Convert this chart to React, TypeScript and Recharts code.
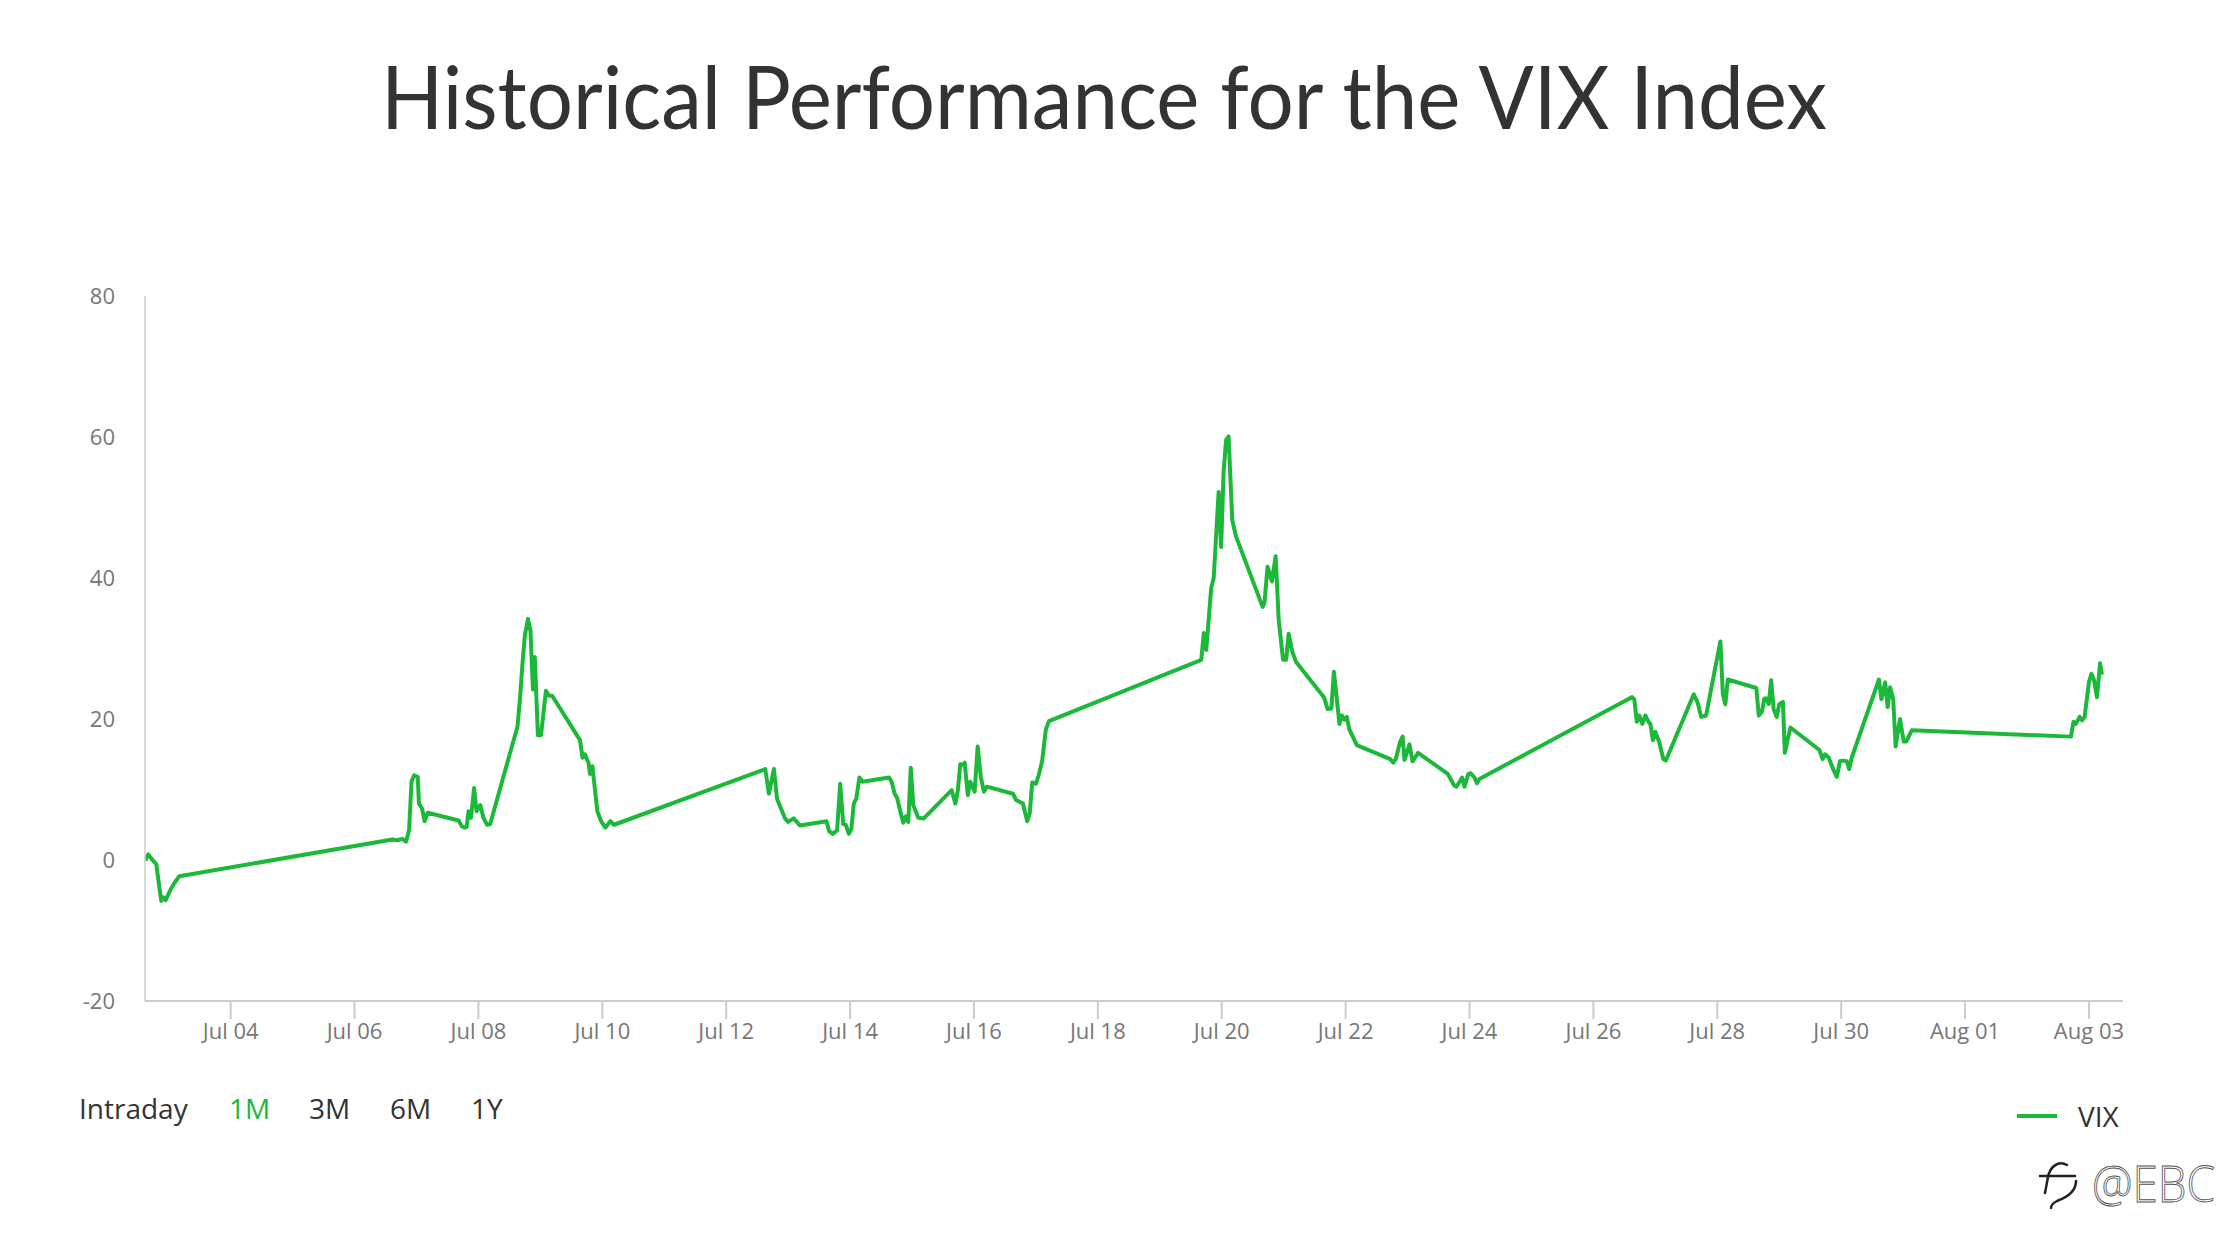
import { LineChart, Line, XAxis, YAxis } from "recharts";

// day of July (32 = Aug 01) and VIX value
const days = [
  2.62, 2.67, 2.72, 2.8, 2.84, 2.88, 2.91, 2.95, 3.03, 3.09, 3.17,
  6.61, 6.69, 6.77, 6.83, 6.88, 6.92, 6.96, 7.02, 7.04, 7.09, 7.13, 7.18,
  7.68, 7.73, 7.78, 7.81, 7.84, 7.88, 7.93, 7.97, 8.03, 8.08, 8.14, 8.19,
  8.54, 8.63, 8.67, 8.71, 8.75, 8.8, 8.84, 8.88, 8.91, 8.96, 9.01, 9.09, 9.14, 9.19,
  9.64, 9.68, 9.72, 9.78, 9.8, 9.84, 9.92, 9.98, 10.05, 10.13, 10.19,
  12.63, 12.69, 12.77, 12.82, 12.95, 13.0, 13.09, 13.19,
  13.62, 13.66, 13.72, 13.79, 13.84, 13.89, 13.93, 13.98, 14.02, 14.06, 14.1, 14.15, 14.2,
  14.63, 14.67, 14.72, 14.76, 14.81, 14.86, 14.9, 14.94, 14.98, 15.02, 15.1, 15.19,
  15.64, 15.7, 15.74, 15.78, 15.82, 15.85, 15.9, 15.94, 16.01, 16.06, 16.11, 16.16, 16.21,
  16.63, 16.68, 16.79, 16.86, 16.9, 16.94, 17.0, 17.05, 17.1, 17.16, 17.21,
  19.67, 19.71, 19.75, 19.83, 19.87, 19.95, 19.99, 20.03, 20.07, 20.11, 20.17, 20.23,
  20.66, 20.69, 20.74, 20.81, 20.87, 20.92, 20.99, 21.04, 21.08, 21.14, 21.2,
  21.65, 21.71, 21.77, 21.81, 21.85, 21.9, 21.94, 21.98, 22.02, 22.06, 22.1, 22.18,
  22.72, 22.77, 22.81, 22.88, 22.92, 22.95, 23.03, 23.08, 23.17,
  23.65, 23.75, 23.79, 23.88, 23.92, 23.98, 24.02, 24.08, 24.12, 24.16,
  26.62, 26.66, 26.7, 26.74, 26.79, 26.84, 26.89, 26.92, 26.96, 27.0, 27.06, 27.13, 27.17,
  27.62, 27.68, 27.74, 27.82, 27.93, 28.05, 28.09, 28.13, 28.17,
  28.63, 28.67, 28.72, 28.76, 28.8, 28.83, 28.87, 28.91, 28.96, 29.0, 29.06, 29.09, 29.12, 29.18,
  29.65, 29.7, 29.74, 29.8, 29.87, 29.93, 29.98, 30.03, 30.09, 30.13, 30.17,
  30.61, 30.65, 30.71, 30.75, 30.79, 30.84, 30.88, 30.95, 31.01, 31.05, 31.14,
  33.71, 33.75, 33.79, 33.85, 33.89, 33.93, 34.0, 34.04, 34.08, 34.13, 34.18, 34.21,
];

const vixValues = [
  -0.1, 0.8, 0.2, -0.6, -3.3, -5.8, -5.3, -5.7, -4.2, -3.3, -2.3,
  2.9, 2.8, 3.0, 2.6, 4.2, 11.1, 12.0, 11.8, 8.0, 7.3, 5.5, 6.7,
  5.6, 4.8, 4.6, 4.7, 6.9, 6.0, 10.2, 6.9, 7.8, 6.0, 5.0, 5.1,
  16.1, 18.9, 22.8, 27.7, 31.9, 34.2, 32.5, 24.2, 28.8, 17.7, 17.7, 24.0, 23.3, 23.3,
  17.0, 14.5, 15.0, 13.7, 12.2, 13.3, 6.9, 5.5, 4.6, 5.5, 5.0,
  12.9, 9.4, 12.9, 8.7, 5.9, 5.4, 5.9, 4.9,
  5.5, 4.1, 3.7, 4.2, 10.8, 5.1, 5.0, 3.7, 4.4, 8.0, 8.7, 11.7, 11.1,
  11.7, 11.1, 9.4, 8.8, 6.9, 5.3, 6.2, 5.4, 13.1, 7.8, 6.0, 5.9,
  9.9, 8.0, 9.9, 13.6, 13.5, 13.8, 9.2, 11.1, 9.7, 16.1, 11.8, 9.7, 10.4,
  9.4, 8.5, 8.0, 5.5, 6.6, 11.0, 10.8, 12.2, 14.0, 18.5, 19.7,
  28.4, 32.2, 29.8, 38.6, 40.0, 52.2, 44.4, 55.1, 59.6, 60.1, 48.2, 45.9,
  35.9, 36.5, 41.6, 39.5, 43.1, 34.0, 28.4, 28.4, 32.1, 29.5, 28.1,
  23.1, 21.4, 21.5, 26.7, 23.5, 19.3, 20.5, 19.9, 20.3, 18.5, 17.8, 16.3,
  14.3, 13.8, 14.3, 16.8, 17.5, 14.2, 16.4, 14.0, 15.2,
  12.2, 10.6, 10.4, 11.7, 10.4, 12.2, 12.3, 11.7, 10.9, 11.5,
  23.1, 22.8, 19.6, 20.5, 19.3, 20.5, 19.6, 19.3, 17.0, 18.2, 16.8, 14.3, 14.1,
  23.5, 22.4, 20.3, 20.5, 25.6, 31.0, 23.5, 22.1, 25.6,
  24.4, 20.5, 21.0, 22.9, 22.9, 22.1, 25.5, 21.4, 20.3, 22.1, 22.4, 15.2, 16.4, 18.8,
  15.6, 14.3, 15.0, 14.5, 12.9, 11.8, 14.0, 14.1, 14.0, 12.9, 14.5,
  25.6, 22.8, 25.2, 21.7, 24.5, 22.8, 16.1, 20.0, 16.8, 16.8, 18.4,
  17.5, 19.6, 19.3, 20.3, 19.8, 20.3, 25.2, 26.4, 25.6, 23.1, 27.9, 26.3,
];

const tickDays = [4, 6, 8, 10, 12, 14, 16, 18, 20, 22, 24, 26, 28, 30, 32, 34];
const tickLabels = [
  "Jul 04", "Jul 06", "Jul 08", "Jul 10", "Jul 12", "Jul 14", "Jul 16", "Jul 18",
  "Jul 20", "Jul 22", "Jul 24", "Jul 26", "Jul 28", "Jul 30", "Aug 01", "Aug 03",
];
const yTicks = [-20, 0, 20, 40, 60, 80];
const ranges = ["Intraday", "1M", "3M", "6M", "1Y"];
const rangeX = [79, 229, 309, 390, 471];

const data = days.map((d, i) => ({ day: d, vix: vixValues[i] }));

const GREEN = "#1cb83a";
const FONT = "'Open Sans', sans-serif";

export default function App() {
  return (
    <div
      style={{
        position: "absolute",
        left: 0,
        top: 0,
        width: 2240,
        height: 1248,
        background: "#fff",
        fontFamily: FONT,
      }}
    >
      <svg
        width={2240}
        height={200}
        style={{ position: "absolute", left: 0, top: 0 }}
      >
        <text
          x={381}
          y={129}
          fontFamily="Lato, 'Open Sans', sans-serif"
          fontSize={88}
          fill="#333"
          textLength={1446}
          lengthAdjust="spacingAndGlyphs"
        >
          Historical Performance for the VIX Index
        </text>
      </svg>

      <div style={{ position: "absolute", left: 0, top: 0 }}>
        <LineChart
          width={2240}
          height={1248}
          data={data}
          margin={{ top: 296, right: 117, bottom: 187, left: 65 }}
        >
          <XAxis
            type="number"
            dataKey="day"
            domain={[2.617, 34.55]}
            ticks={tickDays}
            tickFormatter={(v: number) => tickLabels[tickDays.indexOf(v)] ?? ""}
            height={60}
            stroke="#ccc"
            strokeWidth={2}
            tickSize={18}
            tickMargin={4}
            tick={{ fill: "#777", fontSize: 22, fontFamily: FONT }}
            allowDataOverflow
          />
          <YAxis
            type="number"
            domain={[-20, 80]}
            ticks={yTicks}
            width={80}
            stroke="#ccc"
            strokeWidth={1.5}
            tickLine={false}
            tickSize={0}
            tickMargin={30}
            tick={{ fill: "#777", fontSize: 22, fontFamily: FONT }}
          />
          <Line
            type="linear"
            dataKey="vix"
            stroke={GREEN}
            strokeWidth={4}
            strokeLinejoin="round"
            dot={false}
            isAnimationActive={false}
          />
        </LineChart>
      </div>

      {ranges.map((r, i) => (
        <div
          key={r}
          style={{
            position: "absolute",
            left: rangeX[i],
            top: 1089,
            fontSize: 28,
            lineHeight: "38px",
            color: r === "1M" ? GREEN : "#333",
          }}
        >
          {r}
        </div>
      ))}

      <div
        style={{
          position: "absolute",
          left: 2017,
          top: 1114,
          width: 40,
          height: 4,
          background: GREEN,
        }}
      />
      <div
        style={{
          position: "absolute",
          left: 2078,
          top: 1097,
          fontSize: 28,
          lineHeight: "38px",
          color: "#333",
        }}
      >
        VIX
      </div>

      <svg
        width={220}
        height={80}
        style={{ position: "absolute", left: 2030, top: 1145 }}
      >
        <g fill="none" stroke="#222" strokeWidth={2.5} strokeLinecap="round">
          <path d="M 37 20 C 28 15, 20 22, 18 32 L 15 48" />
          <path d="M 10 31 L 45 31" />
          <path d="M 46 36 C 46 46, 38 52, 27 56 C 23 58, 21 61, 21 63" />
        </g>
        <text
          x={62}
          y={57}
          fontFamily={FONT}
          fontSize={49}
          fontWeight={300}
          fill="#fff"
          stroke="#555"
          strokeWidth={0.9}
          textLength={123}
          lengthAdjust="spacingAndGlyphs"
        >
          @EBC
        </text>
      </svg>
    </div>
  );
}
